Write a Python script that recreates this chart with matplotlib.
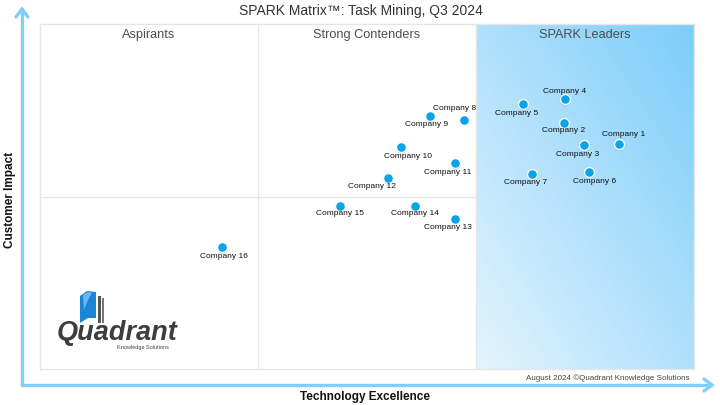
import numpy as np
import matplotlib
matplotlib.use("Agg")
import matplotlib.pyplot as plt
import matplotlib.transforms as mtransforms
from matplotlib.lines import Line2D
from matplotlib.patches import Polygon

plt.rcParams['font.family'] = ['Liberation Sans', 'DejaVu Sans']

# ---------------- data ----------------
companies = ["Company 1", "Company 2", "Company 3", "Company 4", "Company 5",
             "Company 6", "Company 7", "Company 8", "Company 9", "Company 10",
             "Company 11", "Company 12", "Company 13", "Company 14", "Company 15",
             "Company 16"]
technology_excellence = [88.5, 80.1, 83.2, 80.2, 73.9, 83.9, 75.3, 64.9, 59.7, 55.2,
                         63.5, 53.2, 63.5, 57.4, 45.8, 27.9]
customer_impact = [65.2, 71.4, 64.8, 78.2, 76.7, 57.1, 56.6, 72.3, 73.4, 64.3,
                   59.6, 55.3, 43.5, 47.3, 47.3, 35.3]
quadrant_names = ["Aspirants", "Strong Contenders", "SPARK Leaders"]
title = "SPARK Matrix\u2122: Task Mining, Q3 2024"
x_label = "Technology Excellence"
y_label = "Customer Impact"
footer = "August 2024 \u00a9Quadrant Knowledge Solutions"

# label offsets in pixels (styling)
label_offsets = [(5, 10), (0, -8), (-7, -9), (0, 8), (-7, -9), (6, -9), (-7, -9),
                 (-10, 11), (-4, -9), (7, -9), (-8, -9), (-16, -8), (-7, -9),
                 (0, -8), (0, -8), (1, -9)]

W, H = 720, 405
fig = plt.figure(figsize=(W / 100, H / 100), dpi=100)
fig.patch.set_facecolor("white")


def fx(px):
    return px / W


def fy(py):
    return 1 - py / H


ax = fig.add_axes([fx(40), fy(369), (694 - 40) / W, (369 - 24) / H])
ax.set_xlim(0, 100)
ax.set_ylim(0, 100)
ax.set_xticks([])
ax.set_yticks([])
for s in ax.spines.values():
    s.set_color("#e6e6e6")
    s.set_linewidth(1.0)

# gradient for leaders column
nx, ny = 200, 200
u = np.linspace(0, 1, nx)[None, :]
v = np.linspace(0, 1, ny)[:, None]
t = np.clip((u + v) / 2, 0, 1)
c0 = np.array([0xe4, 0xf4, 0xfd]) / 255
c1 = np.array([0x7c, 0xcd, 0xfa]) / 255
img = c0[None, None, :] * (1 - t[..., None]) + c1[None, None, :] * t[..., None]
ax.imshow(img, extent=[100 * 2 / 3, 100, 0, 100], origin="lower",
          aspect="auto", zorder=0, interpolation="bilinear")

# dividers
ax.axvline(100 / 3, color="#e6e6e6", lw=1.0, zorder=1)
ax.axvline(200 / 3, color="#e6e6e6", lw=1.0, zorder=1)
ax.plot([0, 200 / 3], [50, 50], color="#e6e6e6", lw=1.0, zorder=1)

# quadrant names
for i, name in enumerate(quadrant_names):
    ax.text((i + 0.5) * 100 / 3, 96.8, name, ha="center", va="center",
            fontsize=9.2, color="#4d4d4d", zorder=3)

# points: shadow + dot
shadow_tr = ax.transData + mtransforms.ScaledTranslation(0.3 / 72, -0.9 / 72, fig.dpi_scale_trans)
ax.scatter(technology_excellence, customer_impact, s=54, color="#9a9a9a",
           alpha=0.55, edgecolors="none", transform=shadow_tr, zorder=4)
ax.scatter(technology_excellence, customer_impact, s=50, color="#08a4ea",
           edgecolors="white", linewidths=0.9, zorder=5)

for name, xv, yv, (dx, dy) in zip(companies, technology_excellence, customer_impact, label_offsets):
    ax.annotate(name, (xv, yv), xytext=(dx, dy), textcoords="offset pixels",
                ha="center", va="center", fontsize=6, color="#111111", zorder=6)

# title
fig.text(fx(361), fy(11), title, ha="center", va="center", fontsize=10, color="#333333")

# axis labels
fig.text(fx(10), fy(200), y_label, ha="center", va="center", rotation=90,
         fontsize=8.5, fontweight="bold", color="#111111")
fig.text(fx(365), fy(397), x_label, ha="center", va="center",
         fontsize=8.5, fontweight="bold", color="#111111")

# footer
fig.text(fx(689), fy(378), footer, ha="right", va="center", fontsize=5.8, color="#444444")

# arrows
arrow_col = "#80cffa"
fig.add_artist(Line2D([fx(22), fx(22), fx(711)], [fy(9), fy(385), fy(385)],
                      color=arrow_col, lw=2.4, solid_joinstyle="round",
                      solid_capstyle="round"))
fig.add_artist(Line2D([fx(16), fx(22), fx(28)], [fy(17), fy(9), fy(17)],
                      color=arrow_col, lw=2.4, solid_joinstyle="miter",
                      solid_capstyle="round"))
fig.add_artist(Line2D([fx(704), fx(712), fx(704)], [fy(379), fy(385), fy(391)],
                      color=arrow_col, lw=2.4, solid_joinstyle="miter",
                      solid_capstyle="round"))

# logo (decoration)
def P(pts):
    return [(fx(a), fy(b)) for a, b in pts]

fig.add_artist(Polygon(P([(98, 296), (101, 296), (101, 323), (98, 323)]),
                       closed=True, transform=fig.transFigure, color="#555555", lw=0))
fig.add_artist(Polygon(P([(102, 298), (104, 298), (104, 323), (102, 323)]),
                       closed=True, transform=fig.transFigure, color="#777777", lw=0))
fig.add_artist(Polygon(P([(80, 296), (87, 291), (96, 292), (96, 318), (88, 318), (80, 323)]),
                       closed=True, transform=fig.transFigure, color="#1a86d8", lw=0))
fig.add_artist(Polygon(P([(83, 295), (88, 292), (92, 293), (88, 300), (84, 310)]),
                       closed=True, transform=fig.transFigure, color="#7cc4f2", lw=0, alpha=0.8))
fig.text(fx(117), fy(333), "Quadrant", ha="center", va="center", fontsize=19.5,
         fontweight="bold", fontstyle="italic", color="#3d3d3d")
fig.text(fx(143), fy(348), "Knowledge Solutions", ha="center", va="center",
         fontsize=4, color="#444444")

fig.savefig("out.png", dpi=100, facecolor="white")
